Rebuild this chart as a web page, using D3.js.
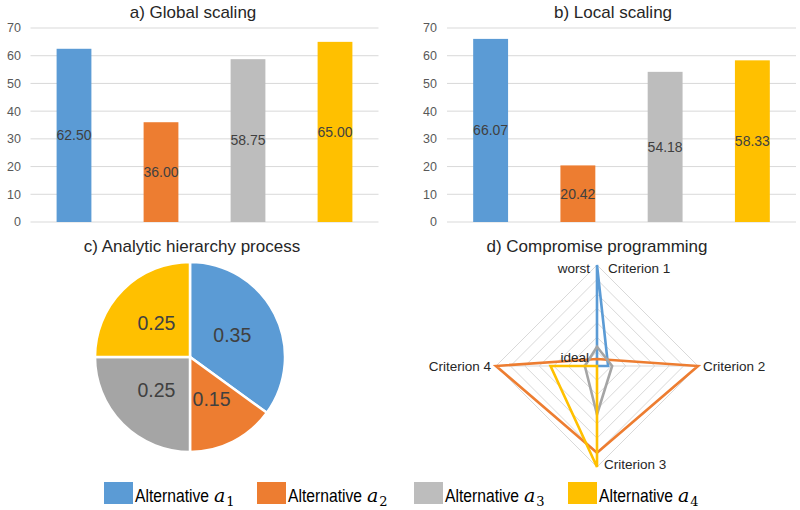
<!DOCTYPE html>
<html><head><meta charset="utf-8">
<script src="https://cdn.jsdelivr.net/npm/d3@7"></script>
<style>
html,body{margin:0;padding:0;background:#fff;}
svg{display:block;font-family:"Liberation Sans",Arial,sans-serif;}
</style></head>
<body><svg id="c" width="800" height="510"></svg>
<script>
const alternatives = ["a1","a2","a3","a4"];
const altIndex = ["1","2","3","4"];
const barColors = ["#5B9BD5","#ED7D31","#BDBDBD","#FFC000"];
const pieColors = ["#5B9BD5","#ED7D31","#A5A5A5","#FFC000"];
const lineColors = ["#5B9BD5","#ED7D31","#A5A5A5","#FFC000"];
const globalScaling = [62.50, 36.00, 58.75, 65.00];
const localScaling = [66.07, 20.42, 54.18, 58.33];
const ahpWeights = [0.35, 0.15, 0.25, 0.25];
const criteria = ["Criterion 1","Criterion 2","Criterion 3","Criterion 4"];
const cpA1 = [1.00, 0.11, 0.00, 0.00];
const cpA2 = [0.07, 1.00, 0.86, 1.00];
const cpA3 = [0.19, 0.15, 0.48, 0.12];
const cpA4 = [0.00, 0.00, 1.00, 0.46];
const yTicks = [0,10,20,30,40,50,60,70];
const radarLevels = [1,2,3,4,5,6,7];

const svg = d3.select("#c");

function barChart(title, values, x0, x1, labelX, titleX){
  const g = svg.append("g");
  const y = d3.scaleLinear().domain([0,70]).range([222,28]);
  const x = d3.scaleBand().domain(alternatives).range([x0,x1]).paddingInner(0.6).paddingOuter(0.3);
  g.selectAll("line.grid").data(yTicks).join("line")
    .attr("x1",x0).attr("x2",x1).attr("y1",d=>y(d)).attr("y2",d=>y(d))
    .attr("stroke","#D9D9D9").attr("stroke-width",1);
  g.selectAll("text.tick").data(yTicks).join("text")
    .attr("x",labelX).attr("y",d=>y(d)).attr("dy","0.35em")
    .attr("text-anchor","end").attr("font-size",12.5).attr("fill","#595959")
    .text(d=>d);
  g.selectAll("rect").data(values).join("rect")
    .attr("x",(d,i)=>x(alternatives[i])).attr("width",x.bandwidth())
    .attr("y",d=>y(d)).attr("height",d=>y(0)-y(d))
    .attr("fill",(d,i)=>barColors[i]);
  g.selectAll("text.val").data(values).join("text")
    .attr("x",(d,i)=>x(alternatives[i])+x.bandwidth()/2)
    .attr("y",d=>(y(d)+y(0))/2).attr("dy","0.35em")
    .attr("text-anchor","middle").attr("font-size",14).attr("fill","#404040")
    .text(d=>d.toFixed(2));
  g.append("text").attr("x",titleX).attr("y",17.5).attr("text-anchor","middle")
    .attr("font-size",17).attr("fill","#262626").text(title);
}
barChart("a) Global scaling", globalScaling, 30.5, 378.5, 21, 193);
barChart("b) Local scaling", localScaling, 447, 796, 437, 613);

// Pie
{
  const g = svg.append("g").attr("transform","translate(190,357)");
  const r = 95;
  const pie = d3.pie().sort(null).value(d=>d);
  const arc = d3.arc().innerRadius(0).outerRadius(r);
  const arcs = pie(ahpWeights);
  g.selectAll("path").data(arcs).join("path")
    .attr("d",arc).attr("fill",(d,i)=>pieColors[i])
    .attr("stroke","#fff").attr("stroke-width",2.5);
  g.selectAll("text").data(arcs).join("text")
    .attr("transform",d=>`translate(${arc.centroid(d)})`).attr("dy","0.35em")
    .attr("text-anchor","middle").attr("font-size",19.5).attr("fill","#404040")
    .text(d=>d.data.toFixed(2));
  svg.append("text").attr("x",192).attr("y",252).attr("text-anchor","middle")
    .attr("font-size",17).attr("fill","#262626").text("c) Analytic hierarchy process");
}

// Radar
{
  const cx = 597, cy = 366, R = 101;
  const g = svg.append("g").attr("transform",`translate(${cx},${cy})`);
  const rs = d3.scaleLinear().domain([0,1]).range([0,R]);
  const ang = d3.scalePoint().domain(criteria).range([0, 2*Math.PI*3/4]);
  const pt = (c,v)=>[rs(v)*Math.sin(ang(c)), -rs(v)*Math.cos(ang(c))];
  const nL = radarLevels.length;
  g.selectAll("polygon.grid").data(radarLevels).join("polygon")
    .attr("points",l=>criteria.map(c=>pt(c,l/nL).join(",")).join(" "))
    .attr("fill","none").attr("stroke","#D9D9D9").attr("stroke-width",1);
  g.selectAll("line.spoke").data(criteria).join("line")
    .attr("x1",0).attr("y1",0).attr("x2",c=>pt(c,1)[0]).attr("y2",c=>pt(c,1)[1])
    .attr("stroke","#D9D9D9").attr("stroke-width",1);
  const series = [cpA1,cpA2,cpA3,cpA4];
  const line = d3.line().curve(d3.curveLinearClosed);
  g.selectAll("path.s").data(series).join("path")
    .attr("d",s=>line(s.map((v,i)=>pt(criteria[i],v))))
    .attr("fill","none").attr("stroke",(s,i)=>lineColors[i]).attr("stroke-width",2.6)
    .attr("stroke-linejoin","miter");
  const lab = svg.append("g").attr("font-size",13.5).attr("fill","#262626");
  lab.append("text").attr("x",608).attr("y",273).text(criteria[0]);
  lab.append("text").attr("x",590).attr("y",273).attr("text-anchor","end").text("worst");
  lab.append("text").attr("x",703).attr("y",371).text(criteria[1]);
  lab.append("text").attr("x",604).attr("y",469).text(criteria[2]);
  lab.append("text").attr("x",491).attr("y",371).attr("text-anchor","end").text(criteria[3]);
  lab.append("text").attr("x",589).attr("y",362).attr("text-anchor","end").text("ideal");
  svg.append("text").attr("x",597).attr("y",252).attr("text-anchor","middle")
    .attr("font-size",17).attr("fill","#262626").text("d) Compromise programming");
}

// Legend
{
  const xs = [104, 257, 414, 568];
  const g = svg.append("g");
  alternatives.forEach((a,i)=>{
    g.append("rect").attr("x",xs[i]).attr("y",482).attr("width",29).attr("height",22).attr("fill",barColors[i]);
    g.append("text").attr("transform",`translate(${xs[i]+31},502) scale(0.98,1.18)`)
      .attr("font-size",16).attr("fill","#000").text("Alternative");
    const t = g.append("text").attr("x",xs[i]+110).attr("y",502)
      .attr("font-family","'DejaVu Serif','Liberation Serif',serif").attr("fill","#000");
    t.append("tspan").attr("font-style","italic").attr("font-size",19).text("a");
    t.append("tspan").attr("font-size",13).attr("dy",4).attr("dx",1).text(altIndex[i]);
  });
}
</script></body></html>
